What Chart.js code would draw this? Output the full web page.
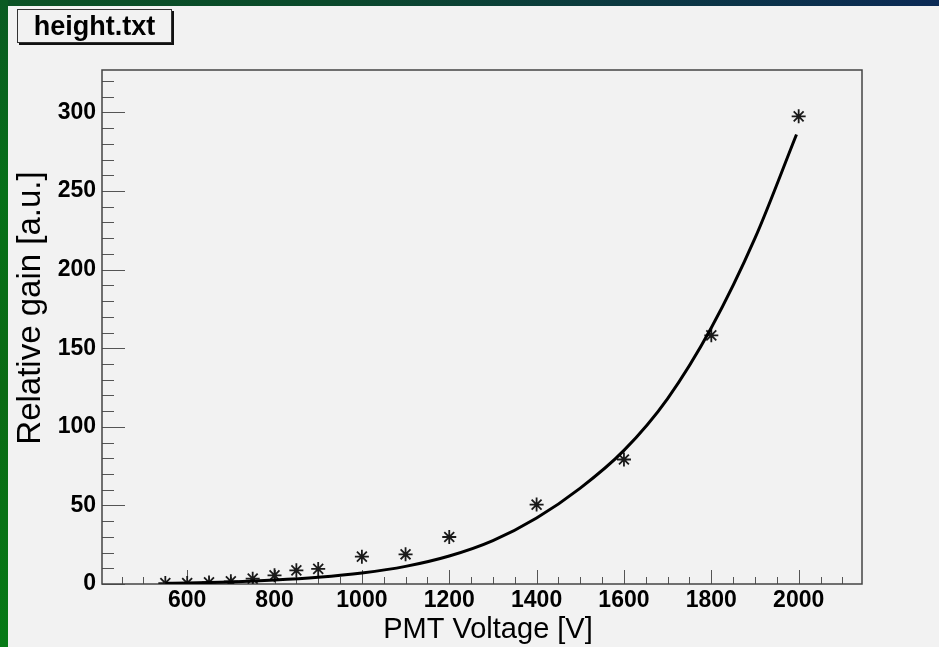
<!DOCTYPE html>
<html>
<head>
<meta charset="utf-8">
<title>height.txt</title>
<script src="https://cdn.jsdelivr.net/npm/chart.js@4.4.1/dist/chart.umd.min.js"></script>
<style>
  html, body { margin: 0; padding: 0; }
  body {
    width: 939px; height: 647px; overflow: hidden; position: relative;
    background: linear-gradient(to right, #0a5224 0%, #0b4a2c 35%, #0c3a40 65%, #0b2a56 100%);
    font-family: "Liberation Sans", Arial, Helvetica, sans-serif;
  }
  #strip {
    position: absolute; left: 0; top: 0; width: 8px; height: 647px;
    background: linear-gradient(to bottom, #0a5a22 0%, #067018 30%, #0a6a14 60%, #067a16 100%);
  }
  #pad {
    position: absolute; left: 8px; top: 6px; right: 0; bottom: 0;
    background: #f2f2f2;
  }
  #chart { position: absolute; left: 0; top: 0; }
  #tag {
    position: absolute; left: 17px; top: 9px; width: 153px; height: 32px;
    border: 1px solid #333; background: #f2f2f2;
    box-shadow: 2px 2px 0 #111;
    font-weight: bold; font-size: 27px; line-height: 33px;
    text-align: center; color: #000;
  }
</style>
</head>
<body>
<div id="strip"></div>
<div id="pad"></div>
<canvas id="chart" width="939" height="647"></canvas>
<div id="tag">height.txt</div>
<script>
'use strict';

// ------------------------------------------------------- //
// Data
// ------------------------------------------------------ //
var voltage = [550, 600, 650, 700, 750, 800, 850, 900, 1000, 1100, 1200, 1400, 1600, 1800, 2000];
var gain = [0.6, 0.6, 1.0, 1.7, 3.4, 5.5, 8.7, 9.6, 17.4, 18.9, 29.9, 50.5, 79.2, 158.2, 297.5];

// fitted curve, as drawn
var fitVoltage = [550, 600, 700, 800, 900, 1000, 1100, 1200, 1300, 1400, 1500, 1600, 1700, 1800, 1900, 1995];
var fitGain = [0.4, 0.6, 1.3, 2.5, 4.3, 7.0, 11.2, 17.8, 27.6, 42, 61, 85, 118, 163, 220, 286];

var xTicks = [600, 800, 1000, 1200, 1400, 1600, 1800, 2000];
var yTicks = [0, 50, 100, 150, 200, 250, 300];

var xTitle = 'PMT Voltage [V]';
var yTitle = 'Relative gain [a.u.]';

var FONT = '"Liberation Sans", Arial, Helvetica, sans-serif';

function toPoints(xs, ys) {
    return xs.map(function(x, i) { return { x: x, y: ys[i] }; });
}

// ------------------------------------------------------- //
// ROOT-like frame with ticks pointing inwards + axis titles
// ------------------------------------------------------ //
var rootFrame = {
    id: 'rootFrame',
    beforeDatasetsDraw: function(chart) {
        var c = chart.ctx, a = chart.chartArea;
        var xs = chart.scales.x, ys = chart.scales.y;
        c.save();
        c.strokeStyle = '#555';
        c.lineWidth = 1;
        c.beginPath();
        for (var v = 450; v <= xs.max; v += 50) {
            var px = Math.round(xs.getPixelForValue(v)) + 0.5;
            var len = (v % 200 === 0) ? 14 : 7;
            c.moveTo(px, a.bottom);
            c.lineTo(px, a.bottom - len);
        }
        for (var w = 0; w <= ys.max; w += 10) {
            var py = Math.round(ys.getPixelForValue(w)) + 0.5;
            var l2 = (w % 50 === 0) ? 23 : 12;
            c.moveTo(a.left, py);
            c.lineTo(a.left + l2, py);
        }
        c.stroke();
        c.strokeStyle = '#444';
        c.lineWidth = 1.5;
        c.strokeRect(a.left, a.top, a.right - a.left, a.bottom - a.top);
        c.restore();
    },
    afterDraw: function(chart) {
        var c = chart.ctx;
        c.save();
        c.fillStyle = '#000';
        c.textAlign = 'center';
        c.textBaseline = 'alphabetic';
        c.font = '29px ' + FONT;
        c.fillText(xTitle, 488, 638);
        c.translate(40, 308);
        c.rotate(-Math.PI / 2);
        c.font = '33px ' + FONT;
        c.fillText(yTitle, 0, 0);
        c.restore();
    }
};

var ctx = document.getElementById('chart').getContext('2d');
Chart.defaults.font.family = FONT;

var chart = new Chart(ctx, {
    type: 'scatter',
    data: {
        datasets: [{
            label: 'fit',
            data: toPoints(fitVoltage, fitGain),
            showLine: true,
            borderColor: '#000',
            borderWidth: 3,
            pointRadius: 0,
            cubicInterpolationMode: 'monotone',
            fill: false
        }, {
            label: 'height.txt',
            data: toPoints(voltage, gain),
            pointStyle: 'star',
            pointRadius: 7,
            borderColor: '#1a1a1a',
            backgroundColor: '#1a1a1a',
            borderWidth: 1.8
        }]
    },
    options: {
        responsive: false,
        animation: false,
        layout: { padding: { left: 0, top: 70, right: 77, bottom: 0 } },
        plugins: {
            legend: { display: false },
            tooltip: { enabled: false }
        },
        scales: {
            x: {
                type: 'linear',
                min: 405,
                max: 2145,
                afterBuildTicks: function(s) { s.ticks = xTicks.map(function(v) { return { value: v }; }); },
                afterFit: function(s) { s.height = 63; },
                grid: { display: false, drawTicks: false, tickLength: 0 },
                border: { display: false },
                ticks: {
                    padding: 3,
                    color: '#000',
                    maxRotation: 0,
                    autoSkip: false,
                    font: { size: 23, weight: 'bold' },
                    callback: function(v) { return String(v); }
                }
            },
            y: {
                type: 'linear',
                min: 0,
                max: 327,
                afterBuildTicks: function(s) { s.ticks = yTicks.map(function(v) { return { value: v }; }); },
                afterFit: function(s) { s.width = 102; },
                grid: { display: false, drawTicks: false, tickLength: 0 },
                border: { display: false },
                ticks: {
                    padding: 6,
                    color: '#000',
                    font: { size: 23, weight: 'bold' },
                    callback: function(v) { return String(v); }
                }
            }
        }
    },
    plugins: [rootFrame]
});
</script>
</body>
</html>
